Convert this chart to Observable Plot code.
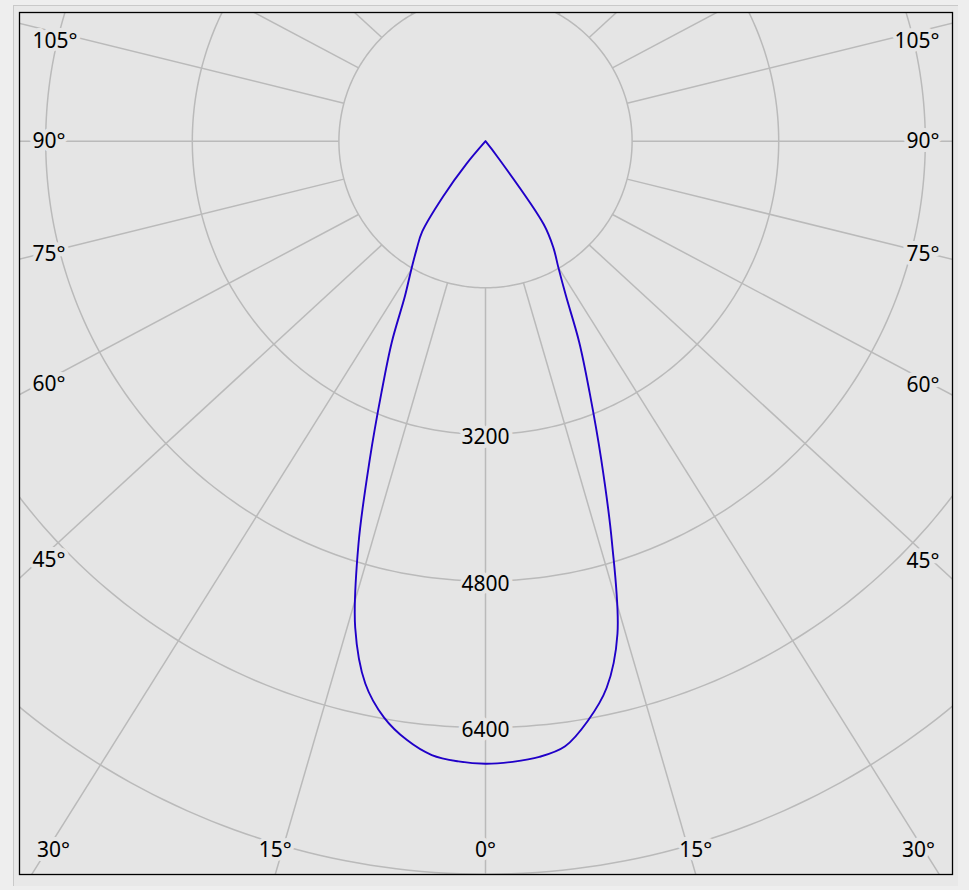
<!DOCTYPE html>
<html><head><meta charset="utf-8">
<script src="https://cdn.jsdelivr.net/npm/d3@7"></script>
<script src="https://cdn.jsdelivr.net/npm/@observablehq/plot@0.6"></script>
<style>
html,body{margin:0;padding:0;background:#eeeeee;}
#wrap{position:relative;width:969px;height:890px;overflow:hidden;}
#panel{position:absolute;left:13px;top:5px;width:944px;height:880px;border-top:1px solid #c9c9c9;border-left:1px solid #c9c9c9;background:#e8e8e8;}
#chart{position:absolute;left:0;top:0;}
</style></head><body>
<div id="wrap"><div id="panel"></div><div id="chart"></div></div>
<script>
// ---- data ----
const angles = [0,2.5,5,7.5,10,12.5,15,17.5,20,22.5,25,27.5,30,32.5,35,37.5,40,42.5,45,47.5,50,55,60,65,70,75,80,85,90];
const candelaRight = [6795,6780,6745,6660,6425,6110,5565,4590,3690,2970,2420,1900,1590,1380,1110,220,0,0,0,0,0,0,0,0,0,0,0,0,0];
const candelaLeft  = [6795,6775,6725,6590,6385,6062,5495,4610,3690,2965,2420,1902,1622,1400,1205,760,330,0,0,0,0,0,0,0,0,0,0,0,0];
const ringValues = [1600,3200,4800,6400,8000];
const ringLabelValues = [3200,4800,6400];
const spokeAngles = [0,15,30,45,60,75,90,105,120,135,150,165,180];
const angleLabelValues = [0,15,30,45,60,75,90,105];

// ---- layout ----
const W = 969, H = 890, mL = 19, mR = 17, mT = 12, mB = 16;
const cxPx = 485, cyPx = 140.7, pxPerCd = 146.6 / 1600;
const xDomain = [(mL - cxPx) / pxPerCd, (W - mR - cxPx) / pxPerCd];
const yDomain = [(mT - cyPx) / pxPerCd, (H - mB - cyPx) / pxPerCd];
const stretch = (W - mL - mR) / (H - mT - mB);
const R = 30000, R0 = ringValues[0];
const rad = d => d * Math.PI / 180;
const px = p => p / pxPerCd;

const grid = "#bababa", bg = "#e5e5e5", blue = "#2000c8";

// curve: left plane from 90 -> 0, then right plane 0 -> 90
const curve = [
  ...angles.map((a, i) => ({a, v: candelaLeft[i], side: -1})).reverse(),
  ...angles.slice(1).map((a, i) => ({a, v: candelaRight[i + 1], side: 1}))
];

// rings
const ringPts = [];
for (const r of ringValues) for (let t = 0; t <= 360; t += 1) ringPts.push({r, t});

// spokes
const spokes = [];
for (const a of spokeAngles) for (const side of (a === 0 || a === 180 ? [1] : [-1, 1])) {
  const t = rad(a);
  spokes.push({a, side,
    x1: side * R0 * Math.sin(t), y1: R0 * Math.cos(t),
    x2: side * R * stretch * Math.sin(t), y2: R * Math.cos(t)});
}
function frameHit(s) {
  const dx = s.x2 - s.x1, dy = s.y2 - s.y1;
  let tm = Infinity, edge = null;
  const test = (t, e) => { if (t > 0 && t < tm) { tm = t; edge = e; } };
  if (dx < -1e-9) test((xDomain[0] - s.x1) / dx, "left");
  if (dx > 1e-9) test((xDomain[1] - s.x1) / dx, "right");
  if (dy > 1e-9) test((yDomain[1] - s.y1) / dy, "bottom");
  if (dy < -1e-9) test((yDomain[0] - s.y1) / dy, "top");
  return {x: s.x1 + dx * tm, y: s.y1 + dy * tm, edge};
}
const angleLabels = spokes.filter(s => angleLabelValues.includes(s.a)).map(s => {
  const h = frameHit(s);
  const lab = {text: s.a + "\u00B0", edge: h.edge};
  if (h.edge === "bottom") {
    lab.x = Math.max(xDomain[0] + px(34), Math.min(xDomain[1] - px(34), h.x));
    lab.y = yDomain[1] - px(24);
  } else {
    lab.x = h.edge === "left" ? xDomain[0] + px(13) : xDomain[1] - px(13);
    lab.y = Math.max(yDomain[0] + px(29), 0.96 * h.y);
  }
  return lab;
});

const textOpts = {fontSize: 21, fill: "#000", stroke: bg, strokeWidth: 8};

const chart = Plot.plot({
  width: W, height: H,
  marginLeft: mL, marginRight: mR, marginTop: mT, marginBottom: mB,
  x: {domain: xDomain, range: [mL, W - mR], axis: null},
  y: {domain: yDomain, range: [mT, H - mB], axis: null},
  style: {background: "transparent", fontFamily: "'Noto Sans', sans-serif", overflow: "visible"},
  marks: [
    Plot.frame({fill: bg, stroke: "none"}),
    Plot.line(ringPts, {x: d => d.r * Math.sin(rad(d.t)), y: d => d.r * Math.cos(rad(d.t)), z: "r",
      stroke: grid, strokeWidth: 1.5, clip: true}),
    Plot.link(spokes, {x1: "x1", y1: "y1", x2: "x2", y2: "y2", stroke: grid, strokeWidth: 1.5, clip: true}),
    Plot.line(curve, {x: d => d.side * d.v * Math.sin(rad(d.a)), y: d => d.v * Math.cos(rad(d.a)),
      stroke: blue, strokeWidth: 1.9, curve: "catmull-rom", clip: true}),
    Plot.text(ringLabelValues, {x: d => 0, y: d => d, text: d => String(d), dy: 3, ...textOpts}),
    Plot.text(angleLabels.filter(d => d.edge === "left"), {x: "x", y: "y", text: "text", textAnchor: "start", ...textOpts}),
    Plot.text(angleLabels.filter(d => d.edge === "right"), {x: "x", y: "y", text: "text", textAnchor: "end", ...textOpts}),
    Plot.text(angleLabels.filter(d => d.edge === "bottom"), {x: "x", y: "y", text: "text", textAnchor: "middle", ...textOpts}),
    Plot.frame({stroke: "#000", strokeWidth: 1.3})
  ]
});
document.getElementById("chart").appendChild(chart);
</script>
</body></html>
